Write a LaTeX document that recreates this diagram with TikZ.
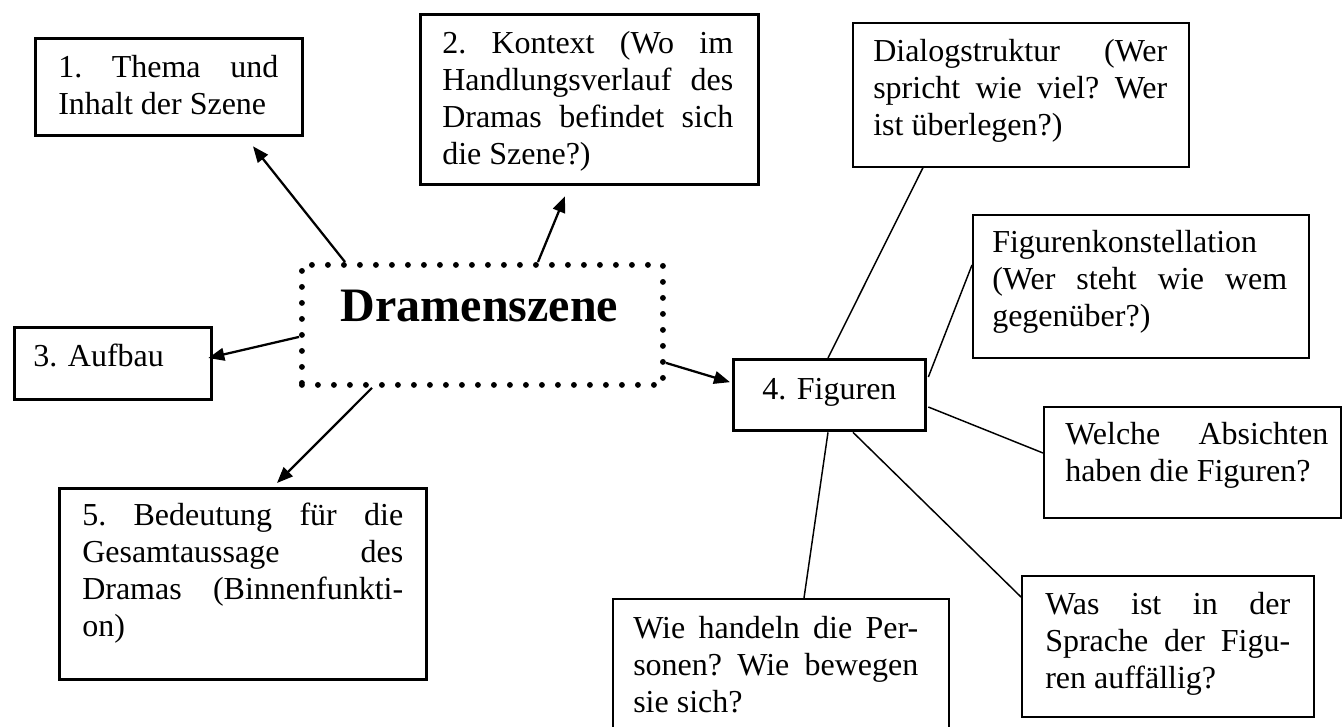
\documentclass[tikz,border=0pt]{standalone}
\usepackage{fontspec}
\setmainfont{Liberation Serif}
\usetikzlibrary{arrows.meta,calc}
\newcommand\JL[1]{\hbox to\linewidth{#1}}
\begin{document}
\begin{tikzpicture}[x=0.75pt,y=-0.75pt,
  thickbox/.style={draw,line width=2.5pt,anchor=north west,inner sep=0pt},
  thinbox/.style={draw,line width=1.2pt,anchor=north west,inner sep=0pt},
  txt/.style={anchor=base west,inner sep=0pt,font=\fontsize{24}{27.75}\selectfont},
  arr/.style={line width=1.7pt,-{Triangle[length=12pt,width=9.5pt]}},
  link/.style={line width=1.1pt},
  dotbox/.style={draw,line width=4.4pt,line cap=round,dash pattern=on 0pt off 12pt,anchor=north west,inner sep=0pt}]
\clip (0,0) rectangle (1343,727);
\fill[white] (0,0) rectangle (1343,727);
% boxes
\node[thickbox,minimum width=200.25pt,minimum height=72.75pt] (b1) at (34,37) {};
\node[thickbox,minimum width=253.5pt,minimum height=127.5pt] (b2) at (419,13) {};
\node[thickbox,minimum width=147.75pt,minimum height=54pt] (b3) at (13,326) {};
\node[thickbox,minimum width=144pt,minimum height=53.25pt] (b4) at (732,358) {};
\node[thickbox,minimum width=275.25pt,minimum height=143.25pt] (b5) at (58,487) {};
\node[thinbox,minimum width=252pt,minimum height=108pt] (dlg) at (852,22) {};
\node[thinbox,minimum width=252pt,minimum height=107.25pt] (fk) at (972,214) {};
\node[thinbox,minimum width=222.75pt,minimum height=83.25pt] (wel) at (1043,406) {};
\node[thinbox,minimum width=219pt,minimum height=105.75pt] (was) at (1021,575) {};
\node[thinbox,minimum width=252pt,minimum height=120pt] (wie) at (612,598) {};
\node[dotbox,minimum width=270.75pt,minimum height=90pt] (dr) at (299,262) {};
% texts
\node[txt] (t1) at (58,78) {\parbox[t]{165pt}{\JL{1.\hfill Thema\hfill und}\JL{Inhalt der Szene\hfil}}};
\node[txt] (t2) at (442,54) {\parbox[t]{218.25pt}{\JL{2.\hfill Kontext\hfill (Wo\hfill im}\JL{Handlungsverlauf\hfill des}\JL{Dramas\hfill befindet\hfill sich}\JL{die Szene?)\hfil}}};
\node[txt] (t3) at (33,367) {3. Aufbau};
\node[txt] (t4) at (762,400) {4. Figuren};
\node[txt] (t5) at (82,525) {\parbox[t]{240.75pt}{\JL{5.\hfill Bedeutung\hfill für\hfill die}\JL{Gesamtaussage\hfill des}\JL{Dramas\hfill (Binnenfunkti-}\JL{on)\hfil}}};
\node[txt] (tdlg) at (873,62) {\parbox[t]{220.5pt}{\JL{Dialogstruktur\hfill (Wer}\JL{spricht\hfill wie\hfill viel?\hfill Wer}\JL{ist überlegen?)\hfil}}};
\node[txt] (tfk) at (992,253) {\parbox[t]{221.25pt}{\JL{Figurenkonstellation\hfil}\JL{(Wer\hfill steht\hfill wie\hfill wem}\JL{gegenüber?)\hfil}}};
\node[txt] (twel) at (1065,445) {\parbox[t]{197.25pt}{\JL{Welche\hfill Absichten}\JL{haben die Figuren?\hfil}}};
\node[txt] (twas) at (1045,614) {\parbox[t]{183.75pt}{\JL{Was\hfill ist\hfill in\hfill der}\JL{Sprache\hfill der\hfill Figu-}\JL{ren auffällig?\hfil}}};
\node[txt] (twie) at (633,638) {\parbox[t]{213.75pt}{\JL{Wie\hfill handeln\hfill die\hfill Per-}\JL{sonen?\hfill Wie\hfill bewegen}\JL{sie sich?\hfil}}};
\node[anchor=base,inner sep=0pt,font=\fontsize{36}{40}\selectfont\bfseries] (dt) at (479.5,322) {Dramenszene};
% arrows
\draw[arr] ($(dr.north west)+(46,0)$) -- ($(b1.south west)+(219,9)$);
\draw[arr] ($(dr.north west)+(239,0)$) -- ($(b2.south west)+(146,10)$);
\draw[arr] ($(dr.west)+(0,12)$) -- ($(b3.north east)+(-5,32)$);
\draw[arr] ($(dr.south east)+(0,-25)$) -- ($(b4.west)+(-2,-13)$);
\draw[arr] ($(dr.south west)+(73,0)$) -- ($(b5.north west)+(219,-4)$);
% links
\draw[link] ($(b4.north west)+(96,0)$) -- ($(dlg.south west)+(71,0)$);
\draw[link] ($(b4.north east)+(1,19)$) -- ($(fk.north west)+(0,51)$);
\draw[link] ($(b4.north east)+(1,49)$) -- ($(wel.north west)+(0,47)$);
\draw[link] ($(b4.south west)+(121,0)$) -- ($(was.north west)+(0,22)$);
\draw[link] ($(b4.south west)+(96,0)$) -- ($(wie.north west)+(192,0)$);
\end{tikzpicture}
\end{document}
